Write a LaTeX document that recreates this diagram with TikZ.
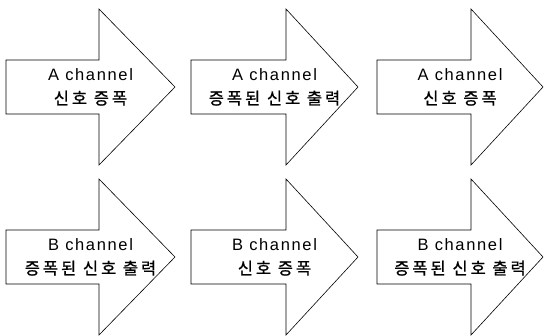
\documentclass[tikz,border=0pt]{standalone}
\usepackage{fontspec}
\setmainfont{Liberation Sans}[LetterSpace=10]
\newfontfamily\kr{Noto Sans CJK KR}[LetterSpace=18, FakeBold=1]

\begin{document}
\begin{tikzpicture}[x=1pt, y=-1pt, body/.style = {draw, line width=0.6pt, line join=miter}, label/.style = {align=center, font=\fontsize{16.5}{24}\selectfont}]
    \useasboundingbox (0,0) rectangle (545,335);
    % arrows: left end / shaft end / tip, two rows
    \foreach \l/\s/\t in {6/99/175, 191/286/358, 377/471/543}
      \foreach \c in {87, 257}
        \draw[body] (\l,{\c-27}) -- (\s,{\c-27}) -- (\s,{\c-78}) -- (\t,\c)
          -- (\s,{\c+78}) -- (\s,{\c+27}) -- (\l,{\c+27}) -- cycle;
    \node[label] (a1) at (90.5,87) {A channel\\ \kr 신호 증폭};
    \node[label] (a2) at (274.5,87) {A channel\\ \kr 증폭된 신호 출력};
    \node[label] (a3) at (460,87) {A channel\\ \kr 신호 증폭};
    \node[label] (b1) at (90.5,257) {B channel\\ \kr 증폭된 신호 출력};
    \node[label] (b2) at (274.5,257) {B channel\\ \kr 신호 증폭};
    \node[label] (b3) at (460,257) {B channel\\ \kr 증폭된 신호 출력};
\end{tikzpicture}
\end{document}
